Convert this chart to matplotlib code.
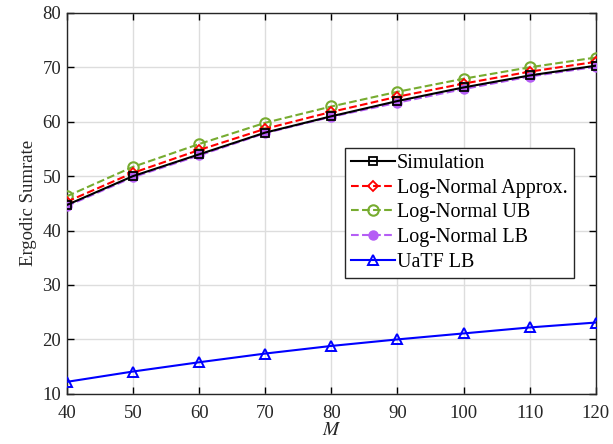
import numpy as np
import matplotlib.pyplot as plt

plt.rcParams['font.family'] = ['Liberation Serif', 'DejaVu Serif']
plt.rcParams['mathtext.fontset'] = 'stix'

M = [40, 50, 60, 70, 80, 90, 100, 110, 120]
sim = [44.7, 50.0, 54.0, 58.0, 61.0, 63.8, 66.3, 68.5, 70.3]
ln_approx = [45.3, 50.6, 54.8, 58.7, 61.8, 64.6, 67.0, 69.2, 71.0]
ln_ub = [46.3, 51.7, 55.9, 59.8, 62.8, 65.5, 67.9, 70.0, 71.8]
ln_lb = [44.5, 49.8, 53.8, 57.9, 60.9, 63.5, 66.0, 68.3, 70.1]
uatf_lb = [12.2, 14.1, 15.8, 17.4, 18.8, 20.0, 21.1, 22.2, 23.1]

fig = plt.figure(figsize=(6.13, 4.44), dpi=100)
ax = fig.add_axes([0.109, 0.113, 0.863, 0.858])

ax.plot(M, sim, '-', color='black', linewidth=1.5, marker='s', markersize=5.5,
        markerfacecolor='none', markeredgewidth=1.3, label='Simulation', zorder=5)
ax.plot(M, ln_approx, '--', color='#FF0000', linewidth=1.5, marker='D', markersize=5.5,
        markerfacecolor='none', markeredgewidth=1.3, label='Log-Normal Approx.', zorder=4)
ax.plot(M, ln_ub, '--', color='#77AC30', linewidth=1.5, marker='o', markersize=7.5,
        markerfacecolor='none', markeredgewidth=1.5, label='Log-Normal UB', zorder=3)
ax.plot(M, ln_lb, '--', color='#B55EF5', linewidth=1.5, marker='o', markersize=6.5,
        markerfacecolor='#B55EF5', markeredgewidth=1.0, label='Log-Normal LB', zorder=4)
ax.plot(M, uatf_lb, '-', color='#0000FF', linewidth=1.5, marker='^', markersize=7.5,
        markerfacecolor='none', markeredgewidth=1.4, label='UaTF LB', zorder=5)

ax.set_xlim(40, 120)
ax.set_ylim(10, 80)
ax.set_xticks(np.arange(40, 121, 10))
ax.set_yticks(np.arange(10, 81, 10))
ax.grid(True, color='#DDDDDD', linewidth=1.0)
ax.set_axisbelow(True)
ax.tick_params(direction='in', top=True, right=True, labelsize=13.5, length=5,
               width=1.0, labelcolor='#262626', pad=4)
ax.tick_params(axis='x', pad=8)
for s in ax.spines.values():
    s.set_color('#262626')
    s.set_linewidth(1.0)

ax.set_xlabel('$M$', fontsize=14, labelpad=0, color='#262626')
ax.set_ylabel('Ergodic Sumrate', fontsize=13.5, labelpad=4, color='#262626')

leg = ax.legend(loc='upper left', bbox_to_anchor=(0.525, 0.646), fontsize=14.5,
                frameon=True, fancybox=False, edgecolor='#262626', framealpha=1,
                handlelength=2.2, handletextpad=0.1, borderpad=0.3, labelspacing=0.28,
                borderaxespad=0)
leg.get_frame().set_linewidth(1.0)

plt.savefig('out.png', dpi=100)
